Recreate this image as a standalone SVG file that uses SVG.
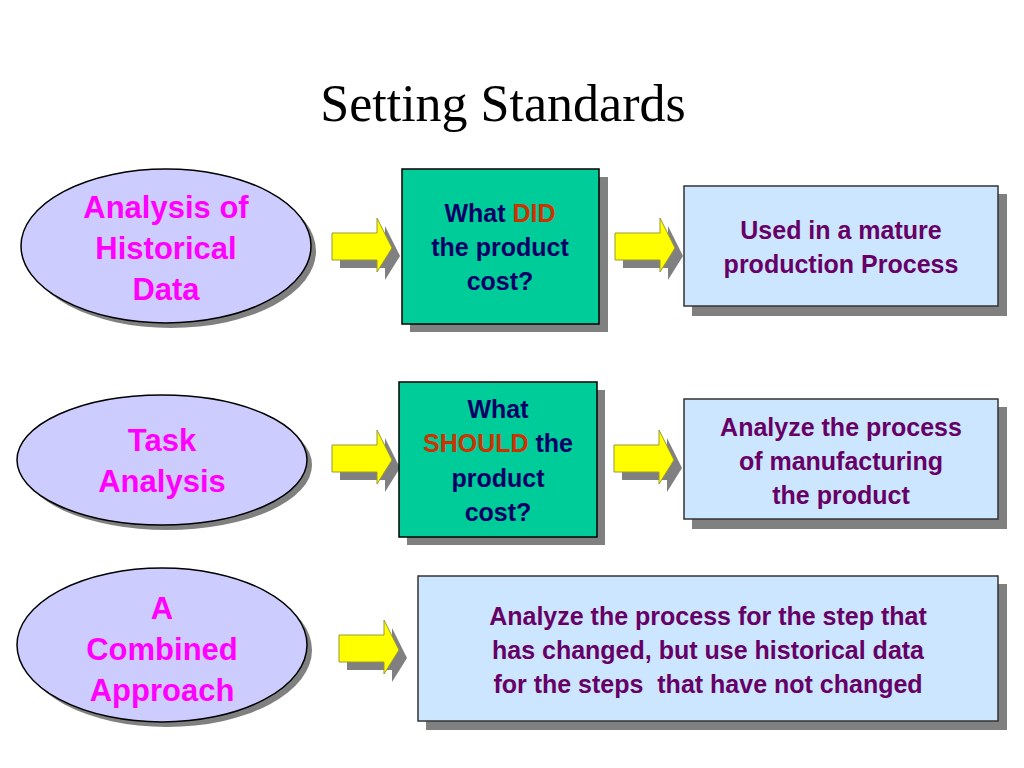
<svg xmlns="http://www.w3.org/2000/svg" width="1024" height="768" viewBox="0 0 1024 768">
<defs>
<style>
.t{font-family:"Liberation Sans",Arial,sans-serif;font-weight:bold;font-size:25px;text-anchor:middle}
.m{fill:#ff00ff;font-size:31px}
.n{fill:#000066}
.b{fill:#660066}
.r{fill:#cc3300}
.sh{fill:#808080}
.ell{fill:#ccccff;stroke:#000;stroke-width:1.5}
.grn{fill:#00cc99;stroke:#000;stroke-width:1.5}
.blu{fill:#cce6ff;stroke:#333;stroke-width:1.5}
.ar{fill:#ffff00;stroke:#999933;stroke-width:1}
</style>
<path id="arr" d="M0,15 H45 V0 L60,30 L45,54 V42 H0 Z"/>
</defs>
<rect width="1024" height="768" fill="#fff"/>
<text x="503" y="121" font-family="Liberation Serif,Times New Roman,serif" font-size="52" text-anchor="middle">Setting Standards</text>

<g id="connectors">
<g transform="translate(340,226)"><use href="#arr" class="sh"/></g><g transform="translate(332,218)"><use href="#arr" class="ar"/></g>
<g transform="translate(623,226)"><use href="#arr" class="sh"/></g><g transform="translate(615,218)"><use href="#arr" class="ar"/></g>
<g transform="translate(340,438)"><use href="#arr" class="sh"/></g><g transform="translate(332,430)"><use href="#arr" class="ar"/></g>
<g transform="translate(622,438)"><use href="#arr" class="sh"/></g><g transform="translate(614,430)"><use href="#arr" class="ar"/></g>
<g transform="translate(347,628)"><use href="#arr" class="sh"/></g><g transform="translate(339,620)"><use href="#arr" class="ar"/></g>
</g>

<g id="n1"><ellipse cx="171" cy="251" rx="145" ry="77" class="sh"/><ellipse cx="166" cy="246" rx="145" ry="77" class="ell"/>
<text class="t m" x="166" y="218">Analysis of</text><text class="t m" x="166" y="259">Historical</text><text class="t m" x="166" y="300">Data</text></g>
<g id="n2"><rect x="410" y="177" width="198" height="155" class="sh"/><rect x="402" y="169" width="197" height="155" class="grn"/>
<text class="t n" x="500" y="222">What <tspan class="r">DID</tspan></text><text class="t n" x="500" y="256">the product</text><text class="t n" x="500" y="290">cost?</text></g>
<g id="n3"><rect x="692" y="194" width="315" height="122" class="sh"/><rect x="684" y="186" width="314" height="120" class="blu"/>
<text class="t b" x="841" y="239">Used in a mature</text><text class="t b" x="841" y="273">production Process</text></g>

<g id="n4"><ellipse cx="167" cy="465" rx="145" ry="65" class="sh"/><ellipse cx="162" cy="460" rx="145" ry="65" class="ell"/>
<text class="t m" x="162" y="451">Task</text><text class="t m" x="162" y="492">Analysis</text></g>
<g id="n5"><rect x="407" y="390" width="198" height="155" class="sh"/><rect x="399" y="382" width="198" height="155" class="grn"/>
<text class="t n" x="498" y="418">What</text><text class="t n" x="498" y="452"><tspan class="r">SHOULD</tspan> the</text><text class="t n" x="498" y="487">product</text><text class="t n" x="498" y="521">cost?</text></g>
<g id="n6"><rect x="692" y="407" width="315" height="122" class="sh"/><rect x="684" y="399" width="314" height="120" class="blu"/>
<text class="t b" x="841" y="436">Analyze the process</text><text class="t b" x="841" y="470">of manufacturing</text><text class="t b" x="841" y="504">the product</text></g>

<g id="n7"><ellipse cx="167" cy="650" rx="145" ry="77" class="sh"/><ellipse cx="162" cy="645" rx="145" ry="77" class="ell"/>
<text class="t m" x="162" y="619">A</text><text class="t m" x="162" y="660">Combined</text><text class="t m" x="162" y="701">Approach</text></g>
<g id="n8"><rect x="426" y="584" width="581" height="146" class="sh"/><rect x="418" y="576" width="580" height="145" class="blu"/>
<text class="t b" x="708" y="625">Analyze the process for the step that</text><text class="t b" x="708" y="659">has changed, but use historical data</text><text class="t b" x="708" y="693" xml:space="preserve">for the steps  that have not changed</text></g>
</svg>
